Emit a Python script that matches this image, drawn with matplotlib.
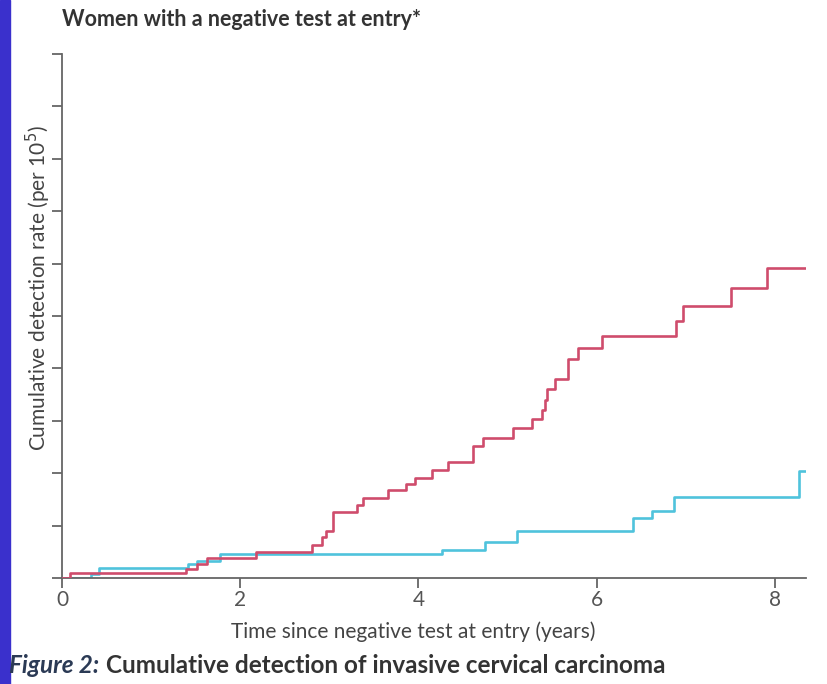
import matplotlib.pyplot as plt
import numpy as np
from matplotlib.patches import Rectangle

# step curves (time in years, cumulative rate in tick units)
red_t = [0, 0.09, 1.39, 1.52, 1.63, 2.18, 2.81, 2.92, 2.96, 3.04, 3.31, 3.38,
         3.66, 3.86, 3.96, 4.15, 4.33, 4.61, 4.72, 5.06, 5.27, 5.39, 5.42,
         5.44, 5.53, 5.68, 5.79, 6.06, 6.89, 6.97, 7.51, 7.91]
red_v = [0, 0.10, 0.17, 0.27, 0.38, 0.50, 0.63, 0.78, 0.90, 1.26, 1.40, 1.53,
         1.68, 1.79, 1.91, 2.06, 2.21, 2.52, 2.67, 2.86, 3.03, 3.21, 3.40,
         3.61, 3.80, 4.18, 4.39, 4.62, 4.90, 5.19, 5.53, 5.92]

cyan_t = [0, 0.33, 0.42, 1.41, 1.52, 1.77, 4.26, 4.75, 5.11, 6.41, 6.62, 6.87, 8.27]
cyan_v = [0, 0.08, 0.19, 0.27, 0.32, 0.46, 0.53, 0.69, 0.90, 1.15, 1.28, 1.55, 2.04]

t_end = 8.35
x_ticks = [0, 2, 4, 6, 8]
y_ticks = list(range(0, 11))

plt.rcParams['font.family'] = ['Lato', 'DejaVu Sans']

fig = plt.figure(figsize=(8.27, 6.84), dpi=100)
ax = fig.add_axes([0.075, 0.155, 0.8995, 0.766])

fig.patches.append(Rectangle((0, 0), 0.012, 1, transform=fig.transFigure,
                             color='#3a30cc', zorder=0))

gray = '#666666'
ax.step(np.append(red_t, t_end), np.append(red_v, red_v[-1]), where='post',
        color='#cf4c6c', lw=1.9, zorder=3)
ax.step(np.append(cyan_t, t_end), np.append(cyan_v, cyan_v[-1]), where='post',
        color='#4fc3dc', lw=1.9, zorder=2)

ax.set_xlim(0, t_end)
ax.set_ylim(0, 10)
ax.set_xticks(x_ticks)
ax.set_yticks(y_ticks)
ax.set_yticklabels([])
for s in ['top', 'right']:
    ax.spines[s].set_visible(False)
for s in ['left', 'bottom']:
    ax.spines[s].set_color(gray)
    ax.spines[s].set_linewidth(1.3)
ax.tick_params(axis='both', direction='out', length=7, width=1.3, color=gray,
               labelsize=15, labelcolor='#555555', pad=2)

fig.text(0.075, 0.972, 'Women with a negative test at entry*', fontsize=15.5,
         fontweight='bold', color='#333333', ha='left', va='center')
fig.text(0.046, 0.579, 'Cumulative detection rate (per 10$^5$)', fontsize=15,
         color='#444444', rotation=90, ha='center', va='center')
fig.text(0.5, 0.076, 'Time since negative test at entry (years)', fontsize=15,
         color='#444444', ha='center', va='center')

fig_lbl = fig.text(0.011, 0.027, 'Figure 2:', fontsize=17.5, fontweight='bold',
                   style='italic', color='#2b3a55', ha='left', va='center')
fig.canvas.draw()
bb = fig_lbl.get_window_extent().transformed(fig.transFigure.inverted())
fig.text(bb.x1 + 0.008, 0.027, 'Cumulative detection of invasive cervical carcinoma',
         fontsize=17.5, fontweight='bold', color='#333333', ha='left', va='center')

fig.savefig('out.png', dpi=100)
